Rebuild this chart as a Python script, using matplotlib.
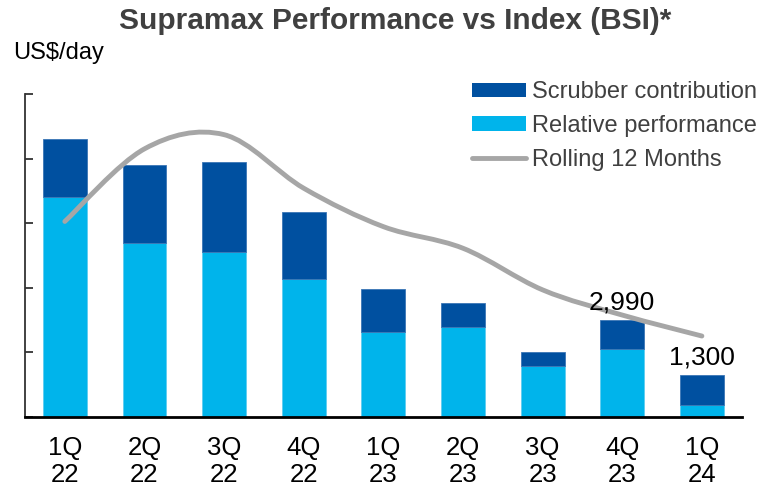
import numpy as np
import matplotlib
matplotlib.use("Agg")
import matplotlib.pyplot as plt
from matplotlib.path import Path
from matplotlib.patches import PathPatch, Patch
from matplotlib.lines import Line2D

plt.rcParams['font.family'] = ['Liberation Sans', 'DejaVu Sans']

quarters = ["1Q\n22", "2Q\n22", "3Q\n22", "4Q\n22", "1Q\n23", "2Q\n23", "3Q\n23", "4Q\n23", "1Q\n24"]
relative_perf = [6810, 5390, 5100, 4270, 2620, 2780, 1570, 2100, 360]
scrubber = [1800, 2400, 2800, 2080, 1350, 740, 430, 890, 940]
rolling_12m = [6050, 8300, 8740, 7080, 5890, 5220, 3930, 3150, 2500]
value_labels = {7: "2,990", 8: "1,300"}

dark_blue = "#0050A0"
light_blue = "#00B4EB"
gray = "#A6A6A6"

fig = plt.figure(figsize=(7.59, 4.93), dpi=100)
ax = fig.add_axes([25/759, 1 - 416.7/493, 716.7/759, 322.7/493])

x = np.arange(len(quarters))
rel = np.array(relative_perf)
scr = np.array(scrubber)
ax.bar(x, rel, width=0.55, color=light_blue, edgecolor="#5FCDF0", linewidth=0.6, zorder=2)
ax.bar(x, scr, bottom=rel, width=0.55, color=dark_blue, edgecolor="#3A75B5", linewidth=0.6, zorder=2)

# smoothed line (Excel-style Bezier through the data points)
xs = x.astype(float)
ys = np.array(rolling_12m, dtype=float)
n = len(xs)
verts = [(xs[0], ys[0])]
codes = [Path.MOVETO]
for i in range(n - 1):
    p0 = (xs[max(i - 1, 0)], ys[max(i - 1, 0)])
    p1 = (xs[i], ys[i])
    p2 = (xs[i + 1], ys[i + 1])
    p3 = (xs[min(i + 2, n - 1)], ys[min(i + 2, n - 1)])
    c1 = (p1[0] + (p2[0] - p0[0]) / 6, p1[1] + (p2[1] - p0[1]) / 6)
    c2 = (p2[0] - (p3[0] - p1[0]) / 6, p2[1] - (p3[1] - p1[1]) / 6)
    verts += [c1, c2, p2]
    codes += [Path.CURVE4] * 3
ax.add_patch(PathPatch(Path(verts, codes), facecolor="none", edgecolor=gray,
                       linewidth=3.5, capstyle="round", zorder=3))

tot = rel + scr
for i, lab in value_labels.items():
    ax.annotate(lab, (x[i], tot[i]), xytext=(0, 4), textcoords="offset points",
                ha="center", va="bottom", fontsize=19, color="black", zorder=4)

ax.set_xlim(-0.5, 8.5)
ax.set_ylim(0, 10000)
ax.set_yticks(np.arange(0, 10001, 2000))
ax.set_yticklabels([])
ax.tick_params(axis="y", direction="in", length=6, width=1.3, color="#333333")
ax.set_xticks(x)
ax.set_xticklabels(quarters, fontsize=18.5, linespacing=1.15)
ax.tick_params(axis="x", length=0, pad=14)
for s in ["top", "right"]:
    ax.spines[s].set_visible(False)
ax.spines["left"].set_linewidth(1.3)
ax.spines["left"].set_color("#333333")
ax.spines["bottom"].set_linewidth(2)
ax.spines["bottom"].set_color("black")

handles = [Patch(facecolor=dark_blue), Patch(facecolor=light_blue),
           Line2D([0], [0], color=gray, lw=3.5, solid_capstyle="round")]
labels = ["Scrubber contribution", "Relative performance", "Rolling 12 Months"]
leg = fig.legend(handles, labels, loc="upper right", bbox_to_anchor=(757/759, 1 - 81/493),
                 frameon=False, fontsize=17, handlelength=2.3, handleheight=0.55,
                 handletextpad=0.25, labelspacing=0.5, borderpad=0, borderaxespad=0)
for t in leg.get_texts():
    t.set_color("#404040")

fig.text(395/759, 1 - 21/493, "Supramax Performance vs Index (BSI)*", ha="center", va="center",
         fontsize=21.5, fontweight="bold", color="#404040")
fig.text(13/759, 1 - 53/493, "US$/day", ha="left", va="center", fontsize=17, color="black")

fig.savefig("out.png", dpi=100)
